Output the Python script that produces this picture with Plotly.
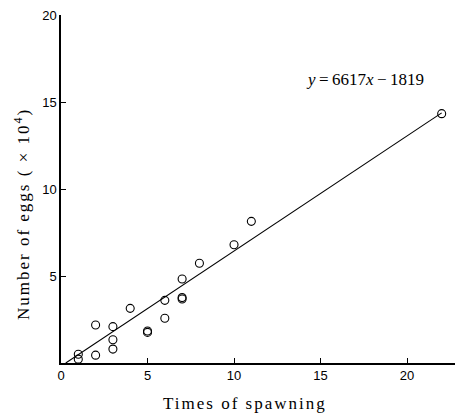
import plotly.graph_objects as go

# Spawning count vs. eggs produced (in units of 10^4 eggs)
times = [1, 1, 2, 2, 3, 3, 3, 4, 5, 5, 6, 6, 7, 7, 7, 8, 10, 11, 22]
eggs = [0.5, 0.22, 2.18, 0.45, 2.09, 1.34, 0.8, 3.14, 1.84, 1.76, 3.6, 2.57,
        4.83, 3.76, 3.68, 5.73, 6.8, 8.14, 14.33]

# Regression y = 6617x - 1819 (eggs), plotted in units of 10^4
slope = 6617
intercept = -1819
scale = 1e4
x_start = -intercept / slope
x_end = 22
fit_x = [x_start, x_end]
fit_y = [(slope * v + intercept) / scale for v in fit_x]

x_ticks = [0, 5, 10, 15, 20]
y_ticks = [5, 10, 15, 20]

fig = go.Figure()
fig.add_trace(go.Scatter(
    x=fit_x, y=fit_y, mode="lines",
    line=dict(color="black", width=1.1),
    showlegend=False, hoverinfo="skip",
))
fig.add_trace(go.Scatter(
    x=times, y=eggs, mode="markers",
    marker=dict(symbol="circle-open", size=8, color="black",
                line=dict(width=1.1, color="black")),
    showlegend=False,
))

serif = "Liberation Serif"

# regression equation
fig.add_annotation(
    x=17.57, y=16.3, xref="x", yref="y",
    text="<i>y</i>\u2009=\u20096617<i>x</i>\u2009\u2212\u20091819",
    showarrow=False,
    font=dict(family=serif, size=17, color="black"),
)

# axis titles, letter-spaced
fig.add_annotation(
    x=0.467, y=-0.115, xref="paper", yref="paper",
    xanchor="center", yanchor="middle",
    text='<span style="letter-spacing:2px">Times of spawning</span>',
    showarrow=False,
    font=dict(family=serif, size=17, color="black"),
)
fig.add_annotation(
    x=-0.099, y=0.428, xref="paper", yref="paper",
    xanchor="center", yanchor="middle", textangle=-90,
    text='<span style="letter-spacing:2px">Number of eggs ( \u00d7 10<sup>4</sup>)</span>',
    showarrow=False,
    font=dict(family=serif, size=17, color="black"),
)

axis_common = dict(
    showline=True, linecolor="black", linewidth=1.5,
    ticks="inside", ticklen=5, tickwidth=1.2, tickcolor="black",
    showgrid=False, zeroline=False,
    tickfont=dict(family="Liberation Sans", size=13, color="black"),
)

fig.update_layout(
    width=456, height=417,
    margin=dict(l=61, r=1, t=15, b=54),
    paper_bgcolor="white", plot_bgcolor="white",
    xaxis=dict(range=[0, 22.77], tickvals=x_ticks, **axis_common),
    yaxis=dict(range=[0, 20], tickvals=y_ticks, **axis_common),
)

fig.write_html("out.html")
